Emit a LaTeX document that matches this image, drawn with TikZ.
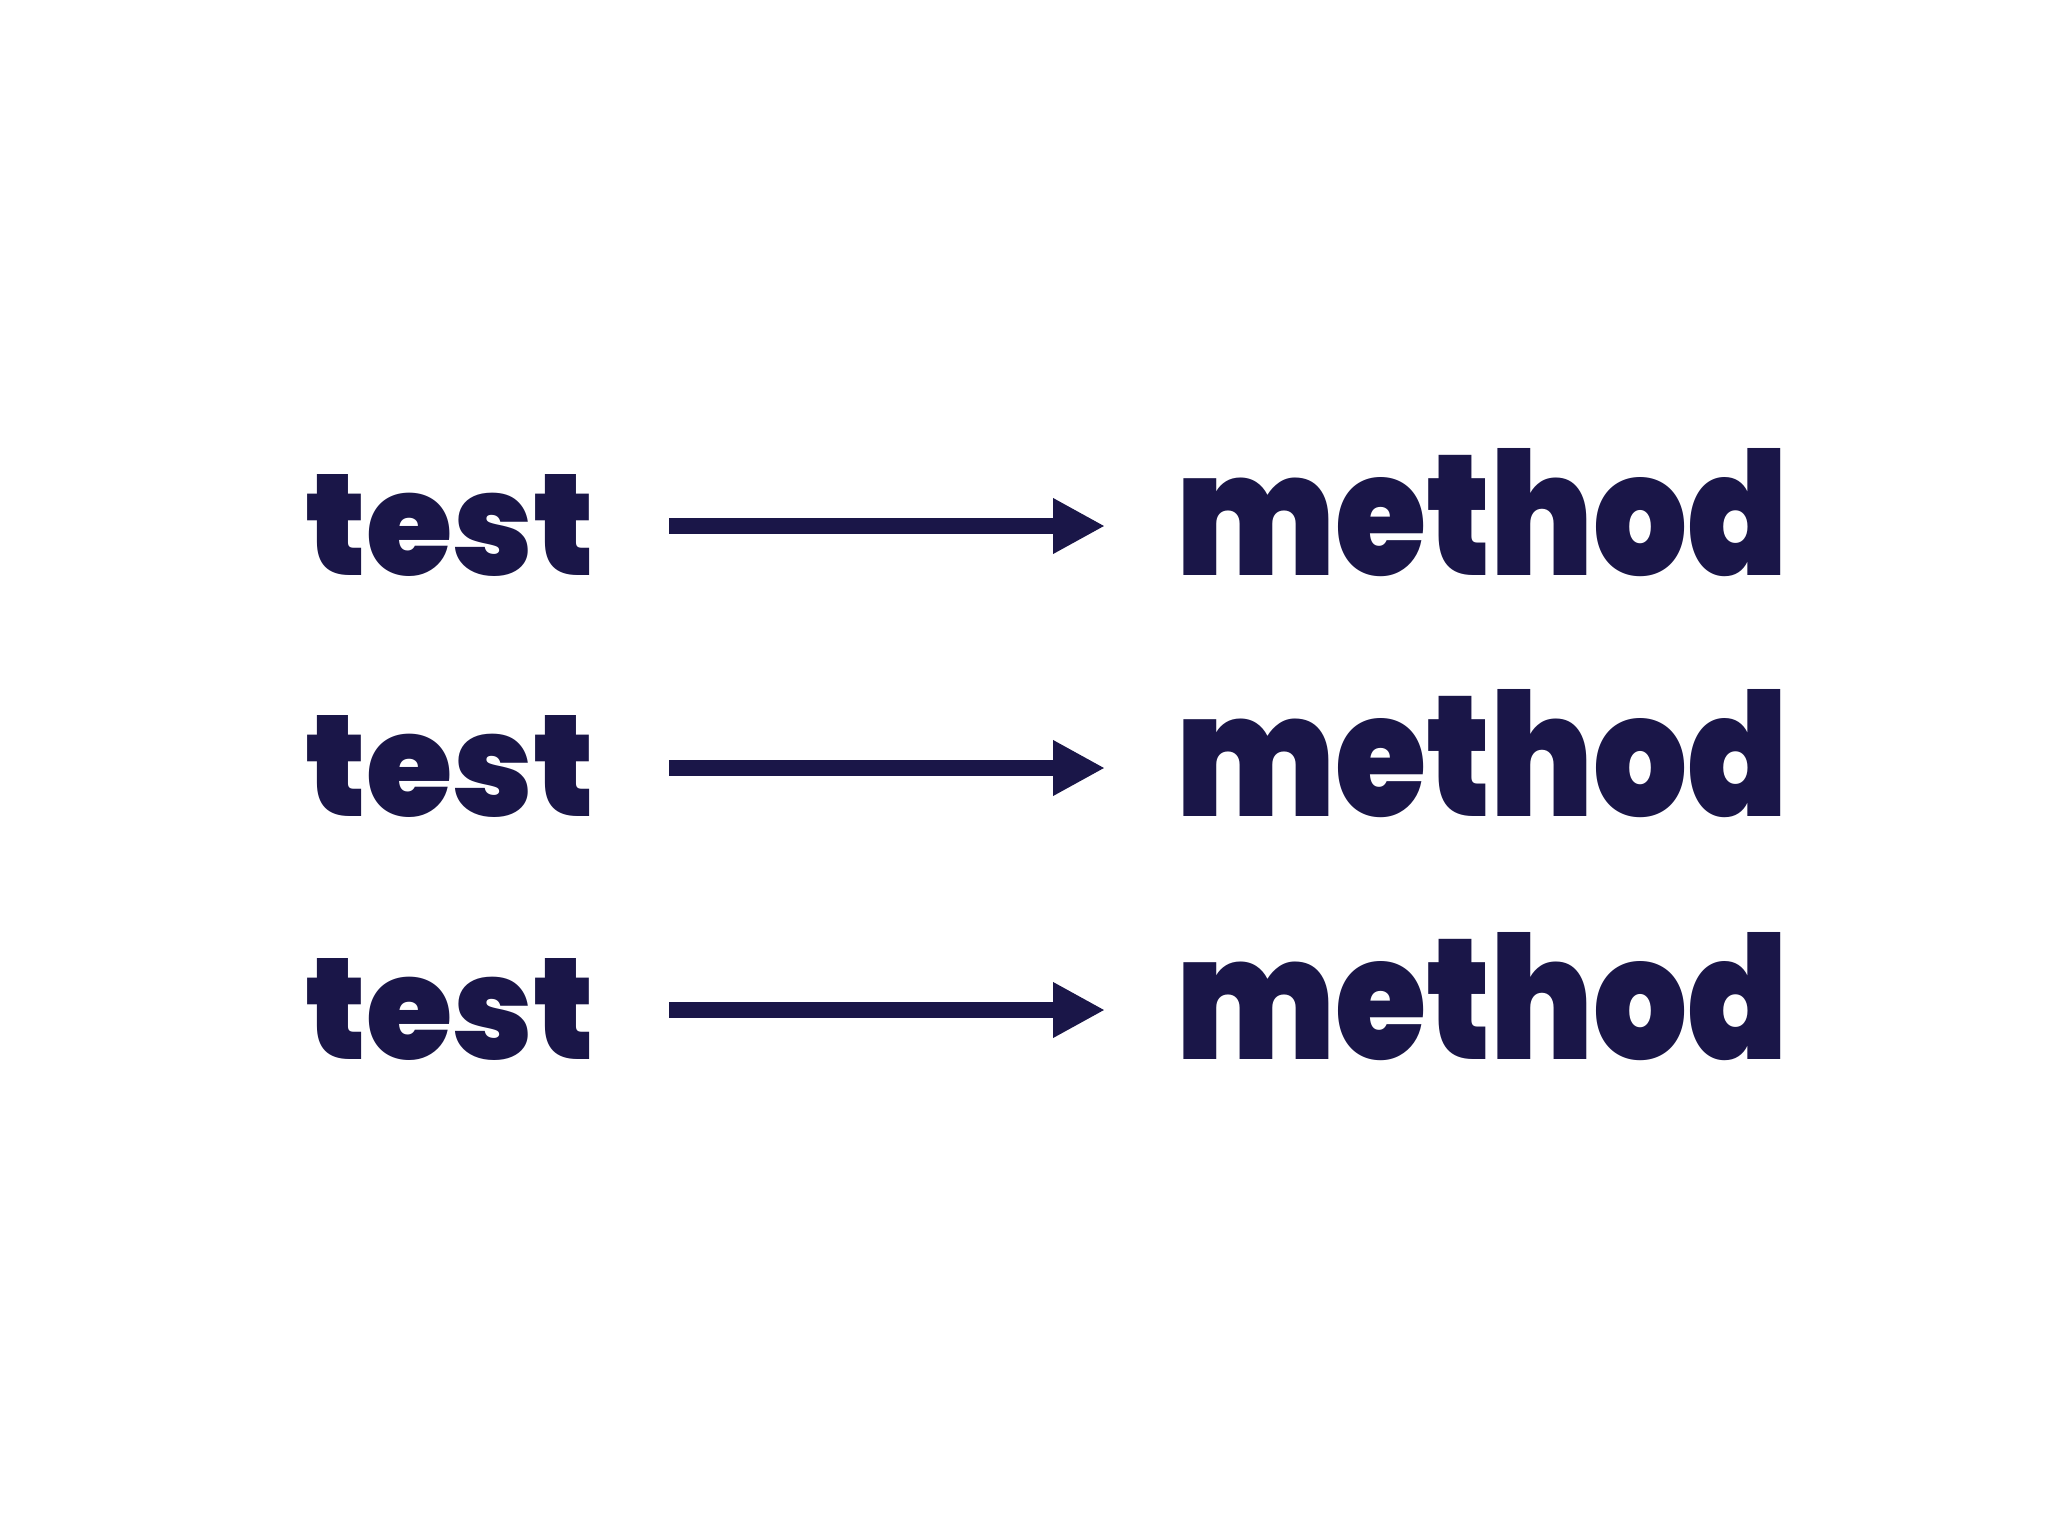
\documentclass[tikz,border=0pt]{standalone}
\usepackage{fontspec}
\setmainfont{Poppins}[UprightFont={* Black},BoldFont={* Black}]
\usetikzlibrary{arrows.meta}
\definecolor{navy}{HTML}{1A1648}
\tikzset{
  word/.style={inner sep=0pt, outer sep=0pt, text=navy, anchor=base west},
  arr/.style={draw=navy, line width=16pt, -{Triangle[length=52pt,width=52pt]}},
}
\begin{document}
\begin{tikzpicture}[x=1pt,y=-1pt]
\useasboundingbox[fill=white] (0,0) rectangle (2048,1536);
\foreach \i/\b/\a in {1/575/526, 2/816/768, 3/1059/1010}{
  \node[word] (t\i) at (305,\b) {\resizebox{289pt}{101pt}{test}};
  \node[word] (m\i) at (1176,\b) {\resizebox{612pt}{127pt}{method}};
  \coordinate (s\i) at (669,\a);
  \coordinate (e\i) at (1105,\a);
  \draw[arr] (s\i) -- (e\i);
}
\end{tikzpicture}
\end{document}
